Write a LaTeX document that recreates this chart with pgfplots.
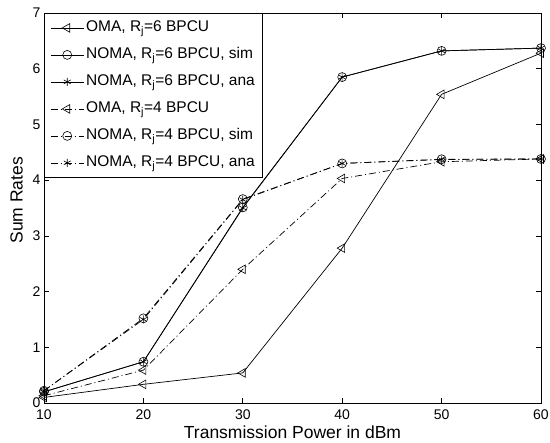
\documentclass[border=0pt]{standalone}
\usepackage{fontspec}
\setmainfont{Liberation Sans}
\usepackage{pgfplots}
\pgfplotsset{compat=1.18}
\begin{document}
\begin{tikzpicture}
\useasboundingbox (0,0) rectangle (550pt,443pt);
\begin{axis}[
  at={(44pt,40pt)}, anchor=south west,
  scale only axis, width=497pt, height=390pt,
  xmin=10, xmax=60, ymin=0, ymax=7,
  xtick={10,20,30,40,50,60}, ytick={0,1,2,3,4,5,6,7},
  /pgf/number format/assume math mode=true,
  tick label style={font=\fontsize{14}{16}\selectfont},
  xticklabel style={yshift=-3pt},
  label style={font=\fontsize{17.5}{20}\selectfont},
  xlabel={Transmission Power in dBm},
  ylabel={Sum Rates},
  xlabel style={at={(axis description cs:0.5,0)}, anchor=base, yshift=-36pt},
  ylabel style={at={(axis description cs:-0.0553,0.52)}, anchor=center},
  major tick length=5pt,
  axis line style={line width=0.8pt},
  every tick/.style={black, line width=0.6pt},
  clip=false,
  legend cell align=left,
  legend style={at={(0,1)}, anchor=north west, draw=black, line width=0.8pt,
    font=\fontsize{15.5}{18}\selectfont, row sep=8pt, inner xsep=6pt, inner ysep=5pt,
    nodes={inner sep=2pt, text height=11pt, text depth=4pt}},
  legend image code/.code={\draw[mark repeat=2,mark phase=2] plot coordinates {(0pt,0pt) (16.5pt,0pt) (33pt,0pt)};},
  every axis plot/.append style={line width=0.7pt, black},
  dd/.style={dash pattern=on 7pt off 3pt on 1pt off 3pt},
]
\addplot[mark=triangle, mark size=5pt, mark options={solid, rotate=90, fill=white, line width=0.6pt}]
  coordinates {(10,0.10) (20,0.335) (30,0.54) (40,2.78) (50,5.54) (60,6.28)};
\addlegendentry{OMA, R\textsubscript{j}=6 BPCU}
\addplot[mark=o, mark size=4.5pt, mark options={solid, line width=0.6pt}]
  coordinates {(10,0.20) (20,0.74) (30,3.51) (40,5.85) (50,6.32) (60,6.37)};
\addlegendentry{NOMA, R\textsubscript{j}=6 BPCU, sim}
\addplot[mark=asterisk, mark size=4pt, mark options={solid, line width=0.6pt}]
  coordinates {(10,0.20) (20,0.74) (30,3.50) (40,5.85) (50,6.32) (60,6.37)};
\addlegendentry{NOMA, R\textsubscript{j}=6 BPCU, ana}
\addplot[dd, mark=triangle, mark size=5pt, mark options={solid, rotate=90, fill=white, line width=0.6pt}]
  coordinates {(10,0.13) (20,0.59) (30,2.40) (40,4.03) (50,4.33) (60,4.38)};
\addlegendentry{OMA, R\textsubscript{j}=4 BPCU}
\addplot[dd, mark=o, mark size=4.5pt, mark options={solid, line width=0.6pt}]
  coordinates {(10,0.22) (20,1.52) (30,3.66) (40,4.30) (50,4.375) (60,4.38)};
\addlegendentry{NOMA, R\textsubscript{j}=4 BPCU, sim}
\addplot[dd, mark=asterisk, mark size=4pt, mark options={solid, line width=0.6pt}]
  coordinates {(10,0.22) (20,1.50) (30,3.65) (40,4.30) (50,4.37) (60,4.38)};
\addlegendentry{NOMA, R\textsubscript{j}=4 BPCU, ana}
\end{axis}
\end{tikzpicture}
\end{document}
